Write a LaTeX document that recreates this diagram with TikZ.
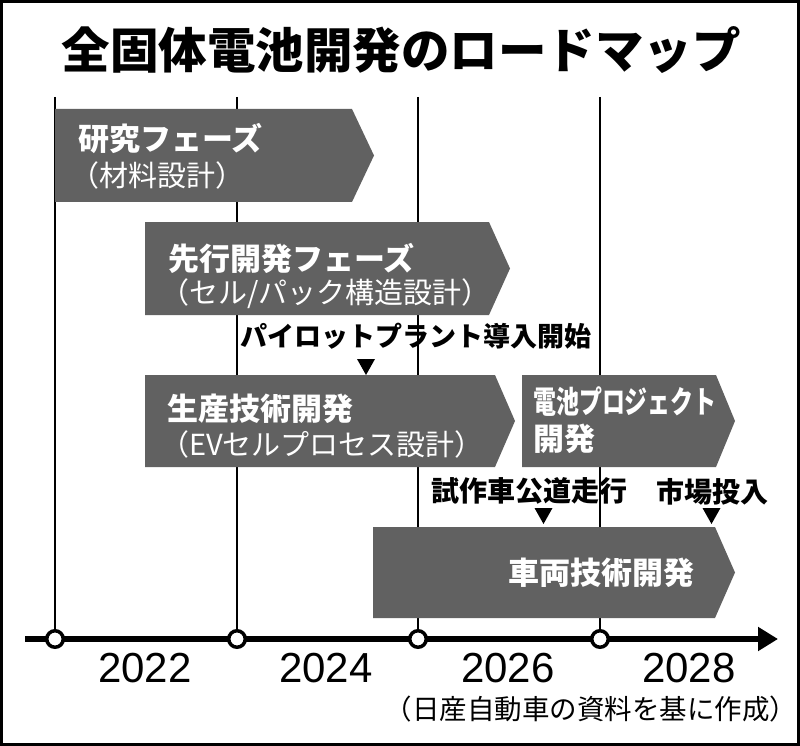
\documentclass[tikz,border=0pt]{standalone}
\usepackage{fontspec}
\usepackage{graphicx}
\usepackage{tikz}
\usetikzlibrary{arrows.meta}
\newfontfamily\jpfont{Noto Sans CJK JP}
\newfontfamily\yearfont{Liberation Sans}

\tikzset{
  phasebox/.style={fill=black!62},
  phasetext/.style={text=white, anchor=west, inner sep=0pt,
    font=\jpfont\bfseries\fontsize{31}{31}\selectfont},
  phasesub/.style={text=white, anchor=west, inner sep=0pt,
    font=\jpfont\fontsize{29}{29}\selectfont},
  milestone/.style={inner sep=0pt, font=\jpfont\bfseries\fontsize{28}{28}\selectfont},
  pointer/.style={fill=black},
  yearmark/.style={circle, draw, fill=white, line width=3.5pt, minimum size=16.5pt, inner sep=0pt},
  yearlabel/.style={inner sep=0pt, font=\yearfont\fontsize{42}{42}\selectfont},
  gridline/.style={line width=1.2pt},
  timeline/.style={line width=6pt, -{Triangle[length=20pt,width=23pt]}},
}

\begin{document}
\begin{tikzpicture}[x=1pt,y=-1pt]
    \useasboundingbox (0,0) rectangle (800,746);
    \draw[line width=3pt] (1.5,1.5) rectangle (798.5,744.5);

    \node[inner sep=0pt, font=\jpfont\bfseries\fontsize{48.5}{48.5}\selectfont] (title) at (401,50) {全固体電池開発のロードマップ};

    % time axis
    \coordinate (axisstart) at (25,639);
    \coordinate (axisend) at (778,639);
    \draw[timeline] (axisstart) -- (axisend);
    \node[yearmark] (t1) at (55,639) {};
    \node[yearmark] (t2) at (237,639) {};
    \node[yearmark] (t3) at (418,639) {};
    \node[yearmark] (t4) at (600,639) {};
    \coordinate (g1) at (55,97);
    \coordinate (g2) at (237,97);
    \coordinate (g3) at (418,97);
    \coordinate (g4) at (600,97);
    \draw[gridline] (g1) -- (t1);
    \draw[gridline] (g2) -- (t2);
    \draw[gridline] (g3) -- (t3);
    \draw[gridline] (g4) -- (t4);

    \node[yearlabel] (y2022) at (145,668) {2022};
    \node[yearlabel] (y2024) at (326,668) {2024};
    \node[yearlabel] (y2026) at (508,668) {2026};
    \node[yearlabel] (y2028) at (689,668) {2028};

    % phases
    \fill[phasebox] (55,109) -- (352,109) -- (374,155.5) -- (352,202) -- (55,202) -- cycle;
    \fill[phasebox] (145,222) -- (489,222) -- (510,268.5) -- (489,315) -- (145,315) -- cycle;
    \fill[phasebox] (145,375) -- (495,375) -- (515,421) -- (495,467) -- (145,467) -- cycle;
    \fill[phasebox] (522,375) -- (716,375) -- (735,421) -- (716,467) -- (522,467) -- cycle;
    \fill[phasebox] (373,527) -- (715,527) -- (735,572.5) -- (715,618) -- (373,618) -- cycle;

    \node[phasetext] (research) at (78,138.5) {研究フェーズ};
    \node[phasesub] (research-sub) at (70,175.5) {（材料設計）};
    \node[phasetext] (advance) at (168,258) {先行開発フェーズ};
    \node[phasesub] (advance-sub) at (160,294) {（セル/パック構造設計）};
    \node[phasetext] (production) at (167,409) {生産技術開発};
    \node[phasesub] (production-sub) at (160,444.5) {（EVセルプロセス設計）};
    \node[phasetext] (battery) at (533,402) {\scalebox{0.74}[1]{電池プロジェクト}};
    \node[phasetext] (battery-sub) at (533,439) {開発};
    \node[phasetext, anchor=center] (vehicle) at (601,573) {車両技術開発};

    % milestones
    \node[milestone, font=\jpfont\bfseries\fontsize{27}{27}\selectfont] (pilot) at (415.5,336) {パイロットプラント導入開始};
    \fill[pointer] (357,359) -- (375,359) -- (366,375) -- cycle;
    \node[milestone] (roadtest) at (529,491) {試作車公道走行};
    \fill[pointer] (534.5,508) -- (552.5,508) -- (543.5,524) -- cycle;
    \node[milestone] (market) at (712,492) {市場投入};
    \fill[pointer] (702.5,508) -- (720.5,508) -- (711.5,524) -- cycle;

    \node[inner sep=0pt, font=\jpfont\fontsize{27.5}{27.5}\selectfont] (source) at (591,709) {（日産自動車の資料を基に作成）};
\end{tikzpicture}
\end{document}
